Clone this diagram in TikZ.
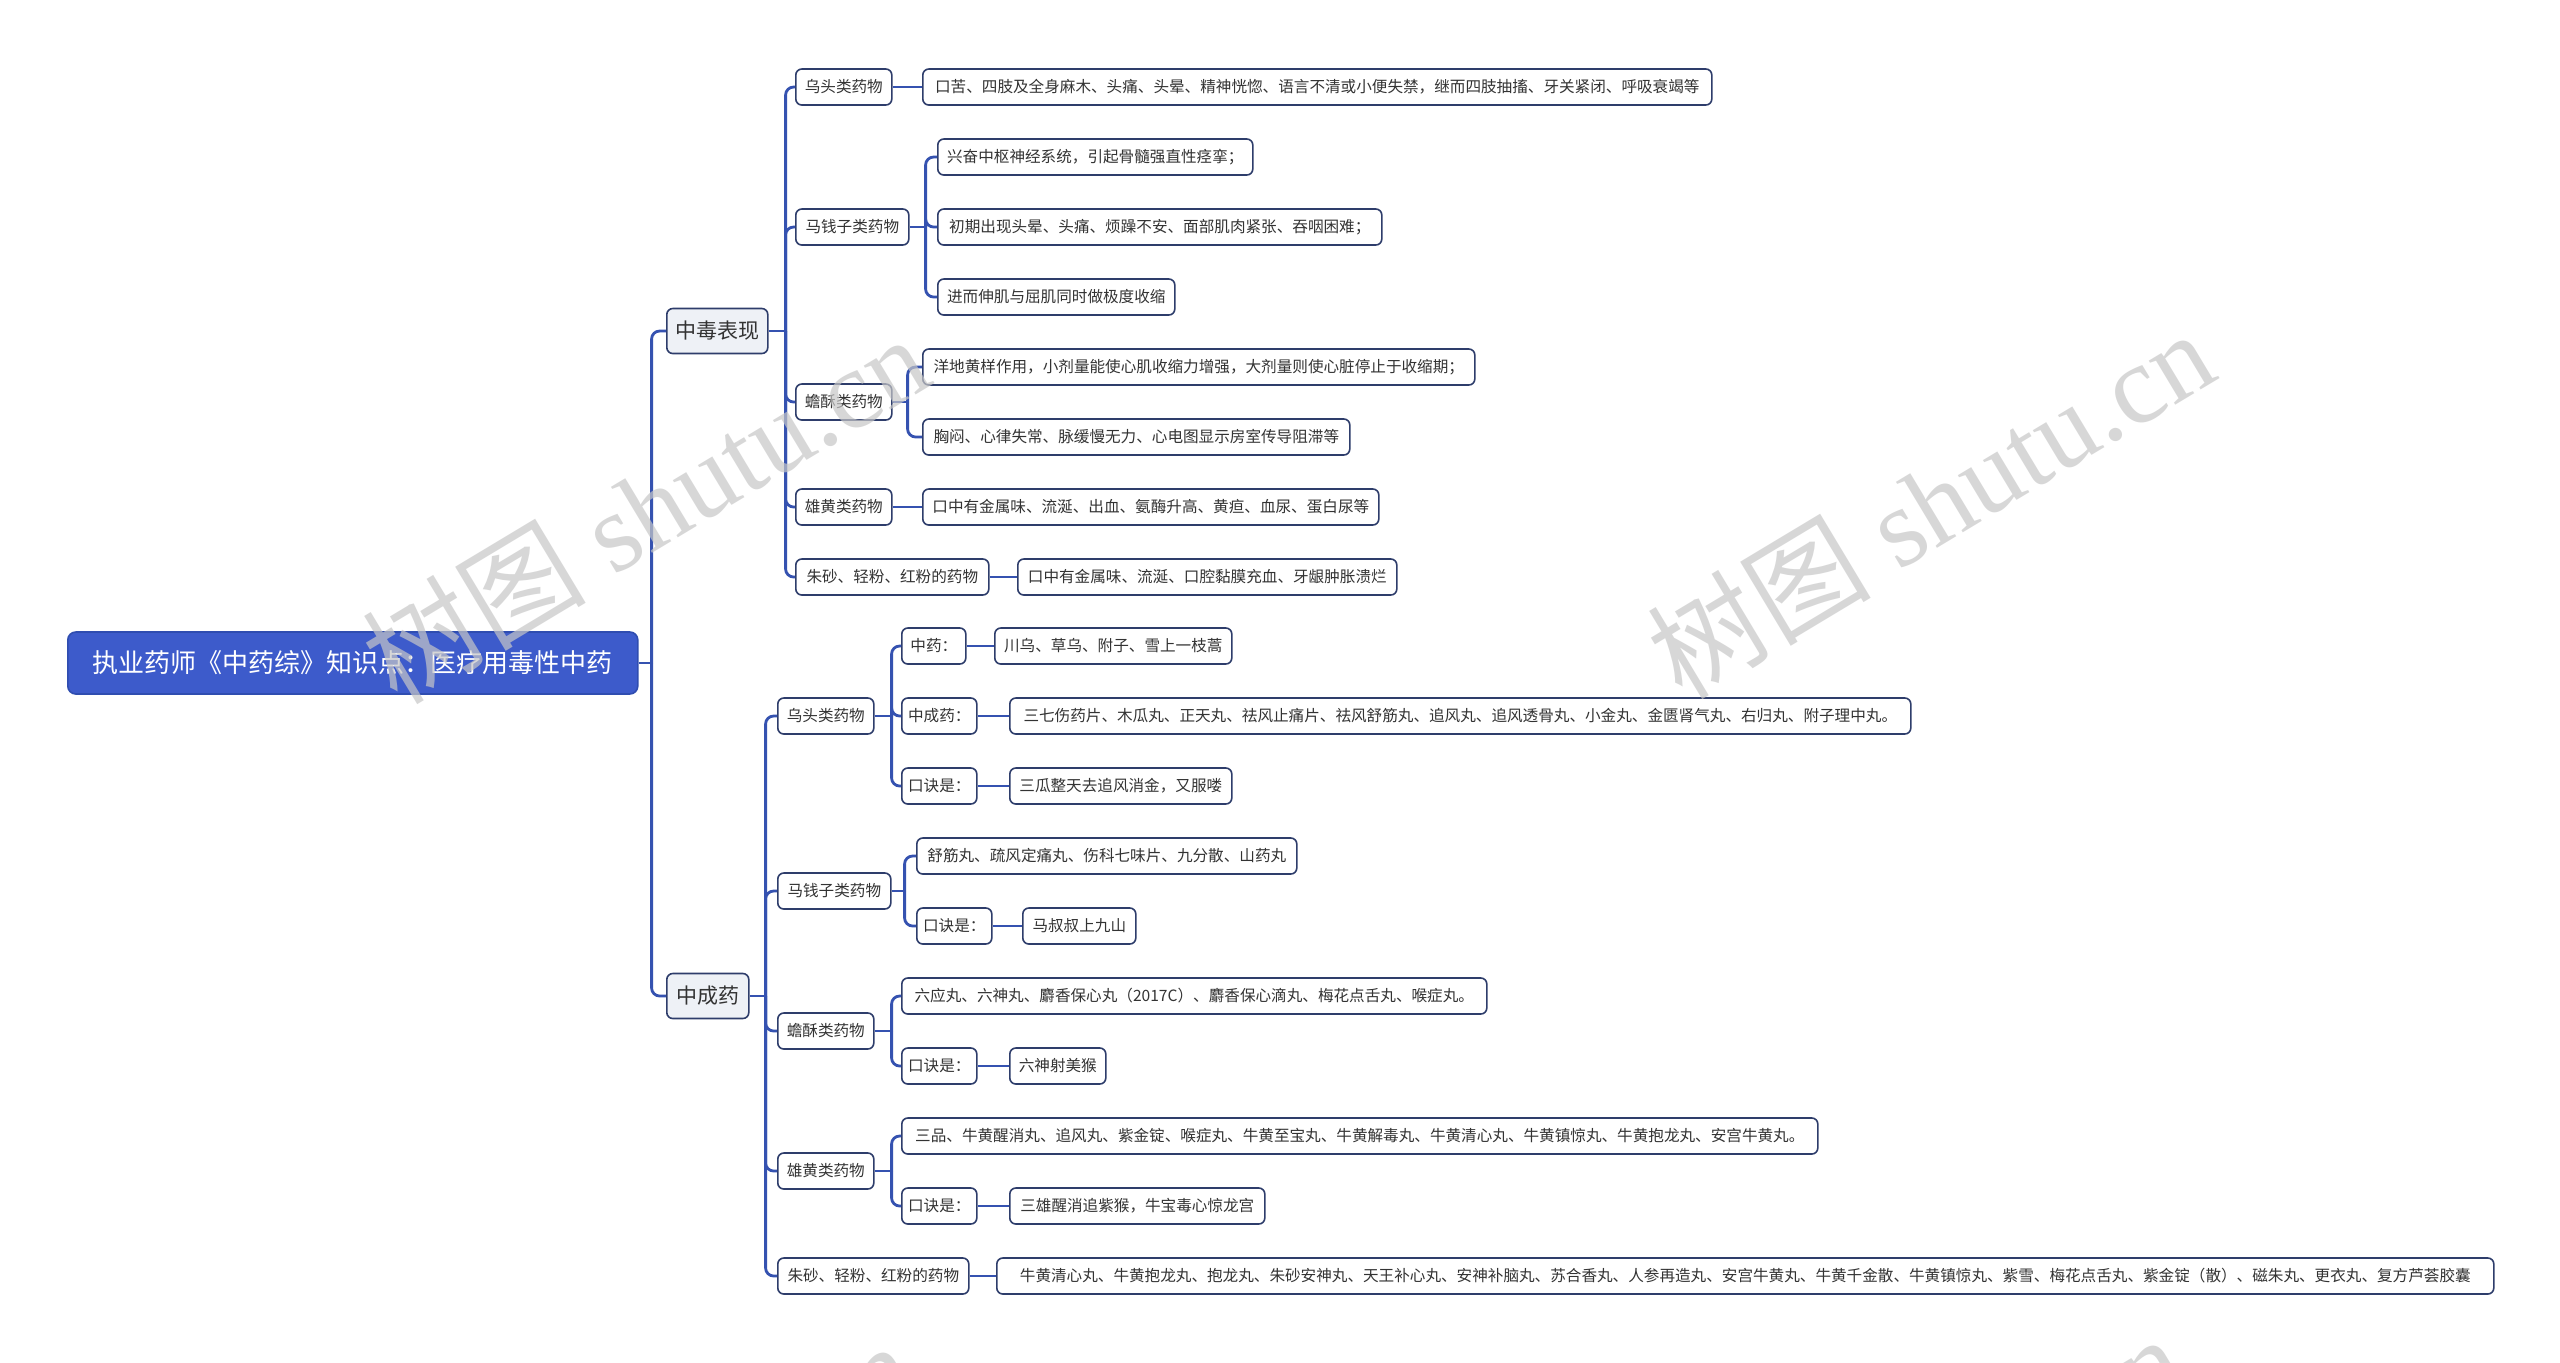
\documentclass[tikz,border=0pt]{standalone}
\usepackage{fontspec}
\setmainfont{Noto Sans CJK SC}
\newfontfamily\wmserif{Liberation Serif}
\newfontfamily\wmcjk{Noto Sans CJK SC}
\definecolor{conncol}{HTML}{3552B0}
\definecolor{boxborder}{HTML}{2E3D6B}
\definecolor{txtcol}{HTML}{333333}
\definecolor{lvfill}{HTML}{EEF1F6}
\definecolor{rootfill}{HTML}{3D5BCB}
\definecolor{rootborder}{HTML}{2F4DB0}
\tikzset{
  box/.style={draw=boxborder, line width=0.8pt, rounded corners=3pt, fill=white,
    text=txtcol, anchor=west, inner xsep=3pt, inner ysep=0pt, minimum height=18pt,
    font=\fontsize{7.8}{9}\selectfont},
  lvone/.style={box, fill=lvfill, minimum height=22.5pt, font=\fontsize{10.5}{12}\selectfont},
  rootbox/.style={box, draw=rootborder, fill=rootfill, text=white, minimum height=31pt,
    rounded corners=4pt, font=\fontsize{13}{15}\selectfont},
  edgeline/.style={draw=conncol, line width=1.4pt, rounded corners=4pt},
  wm/.style={text=black!22, opacity=0.7, rotate=31, inner sep=0pt,
    font=\wmserif\fontsize{56}{58}\selectfont},
}
\begin{document}
\begin{tikzpicture}[x=0.5pt,y=-0.5pt]
\fill[white] (0,0) rectangle (2560,1362);
\useasboundingbox (0,0) rectangle (2560,1362);

% root and level one
\node[rootbox, minimum width=285pt] (root) at (67,663) {执业药师《中药综》知识点：医疗用毒性中药};
\node[lvone, minimum width=50.5pt] (m1) at (666,331) {中毒表现};
\node[lvone, minimum width=41pt] (m2) at (666,996) {中成药};

% 中毒表现 branch
\node[box, minimum width=48pt] (a1) at (795,87) {乌头类药物};
\node[box, minimum width=394.5pt] (a1x) at (922,87) {口苦、四肢及全身麻木、头痛、头晕、精神恍惚、语言不清或小便失禁，继而四肢抽搐、牙关紧闭、呼吸衰竭等};
\node[box, minimum width=56.5pt] (a2) at (795,227) {马钱子类药物};
\node[box, minimum width=157.5pt] (a2x) at (937,157) {兴奋中枢神经系统，引起骨髓强直性痉挛；};
\node[box, minimum width=222pt] (a2y) at (937,227) {初期出现头晕、头痛、烦躁不安、面部肌肉紧张、吞咽困难；};
\node[box, minimum width=118.5pt] (a2z) at (937,297) {进而伸肌与屈肌同时做极度收缩};
\node[box, minimum width=48pt] (a3) at (795,402) {蟾酥类药物};
\node[box, minimum width=276pt] (a3x) at (922,367) {洋地黄样作用，小剂量能使心肌收缩力增强，大剂量则使心脏停止于收缩期；};
\node[box, minimum width=213.5pt] (a3y) at (922,437) {胸闷、心律失常、脉缓慢无力、心电图显示房室传导阻滞等};
\node[box, minimum width=48pt] (a4) at (795,507) {雄黄类药物};
\node[box, minimum width=228pt] (a4x) at (922,507) {口中有金属味、流涎、出血、氨酶升高、黄疸、血尿、蛋白尿等};
\node[box, minimum width=96.5pt] (a5) at (795,577) {朱砂、轻粉、红粉的药物};
\node[box, minimum width=189.5pt] (a5x) at (1017,577) {口中有金属味、流涎、口腔黏膜充血、牙龈肿胀溃烂};

% 中成药 branch
\node[box, minimum width=48pt] (b1) at (777,716) {乌头类药物};
\node[box, minimum width=32pt] (b1a) at (901,646) {中药：};
\node[box, minimum width=118.5pt] (b1ax) at (994,646) {川乌、草乌、附子、雪上一枝蒿};
\node[box, minimum width=37.5pt] (b1b) at (901,716) {中成药：};
\node[box, minimum width=450.5pt] (b1bx) at (1009,716) {三七伤药片、木瓜丸、正天丸、祛风止痛片、祛风舒筋丸、追风丸、追风透骨丸、小金丸、金匮肾气丸、右归丸、附子理中丸。};
\node[box, minimum width=37.5pt] (b1c) at (901,786) {口诀是：};
\node[box, minimum width=111pt] (b1cx) at (1009,786) {三瓜整天去追风消金，又服喽};
\node[box, minimum width=56.5pt] (b2) at (777,891) {马钱子类药物};
\node[box, minimum width=190pt] (b2a) at (916,856) {舒筋丸、疏风定痛丸、伤科七味片、九分散、山药丸};
\node[box, minimum width=37.5pt] (b2b) at (916,926) {口诀是：};
\node[box, minimum width=56.5pt] (b2bx) at (1022,926) {马叔叔上九山};
\node[box, minimum width=48pt] (b3) at (777,1031) {蟾酥类药物};
\node[box, minimum width=292.5pt] (b3a) at (901,996) {六应丸、六神丸、麝香保心丸（2017C）、麝香保心滴丸、梅花点舌丸、喉症丸。};
\node[box, minimum width=37.5pt] (b3b) at (901,1066) {口诀是：};
\node[box, minimum width=48pt] (b3bx) at (1009,1066) {六神射美猴};
\node[box, minimum width=48pt] (b4) at (777,1171) {雄黄类药物};
\node[box, minimum width=458pt] (b4a) at (901,1136) {三品、牛黄醒消丸、追风丸、紫金锭、喉症丸、牛黄至宝丸、牛黄解毒丸、牛黄清心丸、牛黄镇惊丸、牛黄抱龙丸、安宫牛黄丸。};
\node[box, minimum width=37.5pt] (b4b) at (901,1206) {口诀是：};
\node[box, minimum width=127.5pt] (b4bx) at (1009,1206) {三雄醒消追紫猴，牛宝毒心惊龙宫};
\node[box, minimum width=95.5pt] (b5) at (777,1276) {朱砂、轻粉、红粉的药物};
\node[box, minimum width=748.5pt] (b5x) at (996,1276) {牛黄清心丸、牛黄抱龙丸、抱龙丸、朱砂安神丸、天王补心丸、安神补脑丸、苏合香丸、人参再造丸、安宫牛黄丸、牛黄千金散、牛黄镇惊丸、紫雪、梅花点舌丸、紫金锭（散）、磁朱丸、更衣丸、复方芦荟胶囊};

% junction coordinates
\coordinate (t0) at ([xshift=6.5pt]root.east);
\coordinate (t1) at ([xshift=8.5pt]m1.east);
\coordinate (t2) at ([xshift=8pt]m2.east);
\coordinate (ta2) at ([xshift=8pt]a2.east);
\coordinate (ta3) at ([xshift=7.5pt]a3.east);
\coordinate (tb1) at ([xshift=8.5pt]b1.east);
\coordinate (tb2) at ([xshift=6.5pt]b2.east);
\coordinate (tb3) at ([xshift=8.5pt]b3.east);
\coordinate (tb4) at ([xshift=8.5pt]b4.east);

% connectors
\draw[edgeline] (root.east) -- (t0);
\foreach \c in {m1,m2} \draw[edgeline] (t0) |- (\c.west);
\draw[edgeline] (m1.east) -- (t1);
\foreach \c in {a1,a2,a3,a4,a5} \draw[edgeline] (t1) |- (\c.west);
\draw[edgeline] (a1.east) -- (a1x.west);
\draw[edgeline] (a2.east) -- (ta2);
\foreach \c in {a2x,a2y,a2z} \draw[edgeline] (ta2) |- (\c.west);
\draw[edgeline] (a3.east) -- (ta3);
\foreach \c in {a3x,a3y} \draw[edgeline] (ta3) |- (\c.west);
\draw[edgeline] (a4.east) -- (a4x.west);
\draw[edgeline] (a5.east) -- (a5x.west);

\draw[edgeline] (m2.east) -- (t2);
\foreach \c in {b1,b2,b3,b4,b5} \draw[edgeline] (t2) |- (\c.west);
\draw[edgeline] (b1.east) -- (tb1);
\foreach \c in {b1a,b1b,b1c} \draw[edgeline] (tb1) |- (\c.west);
\draw[edgeline] (b1a.east) -- (b1ax.west);
\draw[edgeline] (b1b.east) -- (b1bx.west);
\draw[edgeline] (b1c.east) -- (b1cx.west);
\draw[edgeline] (b2.east) -- (tb2);
\foreach \c in {b2a,b2b} \draw[edgeline] (tb2) |- (\c.west);
\draw[edgeline] (b2b.east) -- (b2bx.west);
\draw[edgeline] (b3.east) -- (tb3);
\foreach \c in {b3a,b3b} \draw[edgeline] (tb3) |- (\c.west);
\draw[edgeline] (b3b.east) -- (b3bx.west);
\draw[edgeline] (b4.east) -- (tb4);
\foreach \c in {b4a,b4b} \draw[edgeline] (tb4) |- (\c.west);
\draw[edgeline] (b4b.east) -- (b4bx.west);
\draw[edgeline] (b5.east) -- (b5x.west);

% watermarks
\begin{scope}
\clip (0,0) rectangle (2560,1362);
\node[wm] (wm1) at (645,508) {{\wmcjk 树图} shutu.cn};
\node[wm] (wm2) at (1930,503) {{\wmcjk 树图} shutu.cn};
\node[wm] (wm3) at (630,1515) {{\wmcjk 树图} shutu.cn};
\node[wm] (wm4) at (1900,1508) {{\wmcjk 树图} shutu.cn};
\end{scope}
\end{tikzpicture}
\end{document}
